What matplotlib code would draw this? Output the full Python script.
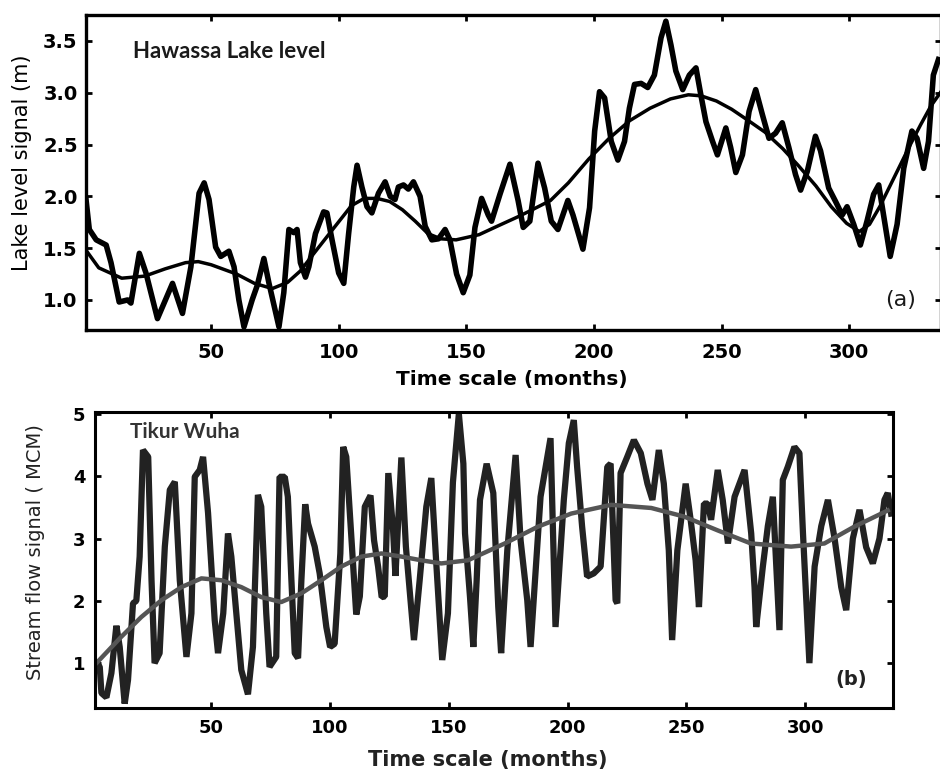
import matplotlib
matplotlib.use("Agg")
import matplotlib.pyplot as plt

# (a) Hawassa lake level, monthly signal
lake_t = [1, 2.3, 5, 8.9, 10.8, 14, 17.3, 18.6, 21.9, 24.5, 29, 34.9, 38.8, 42.1, 45.3, 47.3,
          49.2, 51.8, 53.8, 57, 59, 60.9, 62.9, 66.1, 68.1, 70.7, 72.7, 76.6, 78.5, 80.5, 82.4,
          83.7, 85, 87, 88.3, 90.9, 94.1, 95.4, 97.4, 100, 102, 103.9, 105.9, 107.2, 109.1,
          111.1, 113, 115.6, 118.2, 120.2, 122.1, 123.4, 125.4, 127.3, 129.3, 131.9, 133.9,
          136.5, 139.1, 141.7, 143.6, 146.2, 148.8, 151.4, 153.4, 156, 158.6, 159.9, 163.2,
          167.1, 170.3, 172.3, 174.9, 178.1, 180.7, 183.3, 185.9, 189.8, 191.8, 195.7, 198.3,
          200.3, 202.2, 204.2, 206.8, 209.4, 212, 213.9, 215.9, 218.5, 221.1, 223.7, 226.3,
          228.2, 230.2, 232.1, 234.8, 237.4, 240, 241.9, 243.9, 246.5, 248.4, 251.7, 253.6,
          255.6, 258.2, 260.8, 263.4, 266, 268.6, 271.2, 273.8, 276.4, 279, 281, 283.6, 286.8,
          288.8, 292, 294.7, 297.3, 299.2, 301.8, 304.4, 307, 309.6, 311.6, 313.5, 316.1,
          318.8, 321.4, 324.6, 326.6, 329.2, 331.1, 333, 335]
lake_v = [1.97, 1.68, 1.58, 1.53, 1.36, 0.98, 1.0, 0.97, 1.45, 1.26, 0.82, 1.16, 0.87, 1.32,
          2.03, 2.13, 1.97, 1.51, 1.42, 1.47, 1.32, 1.0, 0.74, 1.0, 1.14, 1.40, 1.16, 0.74,
          1.07, 1.68, 1.65, 1.68, 1.36, 1.22, 1.32, 1.64, 1.85, 1.84, 1.58, 1.26, 1.16, 1.64,
          2.09, 2.30, 2.09, 1.90, 1.84, 2.03, 2.14, 2.0, 1.97, 2.09, 2.11, 2.07, 2.14, 2.0,
          1.71, 1.58, 1.59, 1.68, 1.58, 1.25, 1.07, 1.24, 1.70, 1.98, 1.82, 1.76, 2.02, 2.31,
          1.96, 1.70, 1.76, 2.32, 2.08, 1.76, 1.68, 1.96, 1.82, 1.49, 1.89, 2.63, 3.01, 2.95,
          2.53, 2.35, 2.53, 2.85, 3.08, 3.09, 3.05, 3.17, 3.53, 3.69, 3.46, 3.21, 3.03, 3.17,
          3.24, 2.98, 2.72, 2.53, 2.40, 2.66, 2.47, 2.23, 2.40, 2.82, 3.03, 2.79, 2.56, 2.61,
          2.71, 2.47, 2.21, 2.06, 2.24, 2.58, 2.44, 2.08, 1.95, 1.82, 1.90, 1.73, 1.53, 1.76,
          2.02, 2.11, 1.82, 1.42, 1.73, 2.27, 2.63, 2.56, 2.27, 2.53, 3.17, 3.32]

lake_trend_t = [1, 6, 15, 24, 32, 40, 45, 50, 60, 67, 74, 80, 85, 90, 97, 105, 110, 115, 120,
                125, 130, 135, 140, 146, 155, 162, 170, 175, 183, 190, 198, 206, 214, 222, 230,
                237, 242, 248, 254, 260, 267, 274, 280, 287, 293, 299, 304, 308, 312, 316, 320,
                324, 328, 332, 336]
lake_trend_v = [1.48, 1.31, 1.21, 1.23, 1.30, 1.36, 1.37, 1.34, 1.25, 1.16, 1.11, 1.17, 1.28,
                1.44, 1.66, 1.91, 1.98, 1.98, 1.95, 1.87, 1.76, 1.64, 1.59, 1.58, 1.63, 1.71,
                1.80, 1.86, 1.96, 2.13, 2.36, 2.56, 2.73, 2.85, 2.94, 2.98, 2.97, 2.92, 2.84,
                2.74, 2.62, 2.46, 2.30, 2.10, 1.90, 1.74, 1.66, 1.73, 1.90, 2.10, 2.30, 2.50,
                2.69, 2.87, 3.01]

# (b) Tikur Wuha stream flow
flow_t = [1.6, 3, 3.7, 5.8, 7.9, 10, 11.4, 13.5, 14.9, 17, 18.4, 19.8, 21.2, 23.4, 24.8, 26.1,
          28.2, 30.4, 32.5, 34.6, 36.7, 39.5, 41.6, 43, 45.1, 46.5, 48.6, 51.4, 52.8, 55, 57,
          58.4, 62.6, 65.4, 67.5, 69.6, 71, 73.1, 74.5, 77.3, 78.7, 80.9, 82.2, 83.7, 85.1,
          86.5, 87.9, 89.5, 90.7, 93.5, 95.6, 98.4, 100, 101.9, 104.3, 105.5, 106.8, 109, 111,
          112.5, 114.6, 117, 118.5, 120.2, 121.7, 123, 124.5, 126.5, 127.5, 130, 131.9, 135.3,
          137.7, 140.5, 142.6, 144.7, 147.2, 149.6, 151.7, 154.2, 156.1, 156.8, 158.9, 160.3,
          161.7, 163.1, 165.9, 168.7, 170.8, 172, 174.6, 178.1, 180.2, 183, 184.4, 188.6, 192.8,
          194.9, 198.4, 200.5, 202.6, 204, 206.1, 208.2, 211, 213.9, 216.7, 218.1, 220.2, 220.9,
          222.3, 225.1, 227.9, 230.8, 233.6, 235.7, 238.4, 240.5, 242.6, 244, 246.2, 248.3,
          249.7, 251.8, 253.9, 255.3, 257.4, 259, 260.4, 263.2, 265.3, 267.5, 270.3, 274.5,
          277.3, 278.7, 279.4, 282.2, 284.3, 286.4, 289.2, 290.6, 292.7, 295.5, 297.6, 299.1,
          300.5, 301.8, 304, 306.8, 309.6, 312.4, 315.2, 317.3, 320.1, 322.9, 325.7, 328.5,
          331.3, 333.4, 334.8, 336.2]
flow_v = [1.0, 0.94, 0.52, 0.45, 0.84, 1.6, 1.26, 0.35, 0.73, 1.96, 2.0, 2.71, 4.42, 4.31, 2.33,
          1.0, 1.16, 2.87, 3.78, 3.91, 2.33, 1.10, 1.80, 3.99, 4.10, 4.31, 3.41, 1.69, 1.16,
          1.80, 3.08, 2.71, 0.89, 0.50, 1.26, 3.70, 3.51, 1.80, 0.94, 1.10, 3.99, 3.99, 3.67,
          2.33, 1.16, 1.08, 2.33, 3.55, 3.24, 2.87, 2.44, 1.58, 1.26, 1.31, 2.76, 4.47, 4.31,
          2.97, 1.78, 2.07, 3.51, 3.69, 2.97, 2.55, 2.06, 2.07, 4.05, 3.14, 2.40, 4.30, 2.87,
          1.37, 2.33, 3.51, 3.97, 2.6, 1.05, 1.8, 3.9, 5.0, 4.2, 3.08, 2.06, 1.26, 2.33, 3.62,
          4.2, 3.73, 1.9, 1.16, 2.81, 4.34, 2.97, 2.01, 1.26, 3.67, 4.61, 1.58, 3.62, 4.53, 4.9,
          4.15, 3.19, 2.39, 2.44, 2.55, 4.15, 4.2, 2.01, 1.96, 4.05, 4.31, 4.58, 4.37, 3.88,
          3.62, 4.42, 3.88, 2.81, 1.37, 2.81, 3.46, 3.88, 3.30, 2.65, 1.90, 3.56, 3.56, 3.3,
          4.1, 3.62, 2.92, 3.67, 4.1, 3.08, 2.22, 1.58, 2.55, 3.2, 3.67, 1.53, 3.94, 4.15, 4.47,
          4.37, 3.08, 2.01, 1.0, 2.55, 3.2, 3.62, 3.0, 2.22, 1.85, 3.0, 3.46, 2.86, 2.6, 3.0,
          3.62, 3.73, 3.4]

flow_trend_t = [1.6, 12, 20.5, 29, 37.4, 45.8, 54.2, 62.6, 71, 79.4, 87.9, 96.3, 104.7, 113.2,
                121.6, 130, 138.4, 146.8, 158, 173.5, 187.5, 201.5, 218.3, 235.2, 249.2, 263.2,
                277.2, 294.1, 308.1, 320.7, 334.8]
flow_trend_v = [1.0, 1.42, 1.74, 2.01, 2.22, 2.36, 2.33, 2.22, 2.06, 1.98, 2.12, 2.33, 2.55,
                2.71, 2.76, 2.71, 2.65, 2.60, 2.65, 2.92, 3.19, 3.40, 3.54, 3.49, 3.35, 3.13,
                2.92, 2.87, 2.92, 3.19, 3.45]

W, H = 940, 776
fig = plt.figure(figsize=(W / 100, H / 100), dpi=100)


def style_axes(ax, size, lw):
    for s in ax.spines.values():
        s.set_linewidth(lw)
    ax.tick_params(direction="in", length=4.5, width=2, top=True, right=True,
                   labelsize=size)
    for lab in ax.get_xticklabels() + ax.get_yticklabels():
        lab.set_fontweight("bold")


# top panel
ax1 = fig.add_axes([86 / W, 1 - 330 / H, 855 / W, 315 / H])
ax1.plot(lake_t, lake_v, color="black", lw=4.0)
ax1.plot(lake_trend_t, lake_trend_v, color="black", lw=2.5)
ax1.set_xlim(1, 336)
ax1.set_ylim(0.71, 3.75)
ax1.set_xticks([50, 100, 150, 200, 250, 300])
ax1.set_yticks([1.0, 1.5, 2.0, 2.5, 3.0, 3.5])
ax1.set_yticklabels(["1.0", "1.5", "2.0", "2.5", "3.0", "3.5"])
style_axes(ax1, 14, 2.4)
ax1.tick_params(axis="x", pad=9)
ax1.tick_params(axis="y", pad=6)
fig.text(229 / W, 1 - 52 / H, "Hawassa Lake level", ha="center", va="center",
         family="Lato", weight="bold", fontsize=16, color="#1a1a1a")
fig.text(901 / W, 1 - 300 / H, "(a)", ha="center", va="center", fontsize=16,
         color="#1a1a1a")
fig.text(512 / W, 1 - 380 / H, "Time scale (months)", ha="center", va="center",
         fontsize=14.5, weight="bold")
fig.text(22 / W, 1 - 163 / H, "Lake level signal (m)", ha="center", va="center",
         rotation=90, fontsize=15)

# bottom panel
ax2 = fig.add_axes([95 / W, 1 - 708 / H, 798 / W, 296 / H])
ax2.plot(flow_t, flow_v, color="#222222", lw=4.5, solid_joinstyle="bevel")
ax2.plot(flow_trend_t, flow_trend_v, color="#555555", lw=3.2)
ax2.set_xlim(1, 337)
ax2.set_ylim(0.28, 5.03)
ax2.set_xticks([50, 100, 150, 200, 250, 300])
ax2.set_yticks([1, 2, 3, 4, 5])
style_axes(ax2, 13, 2.2)
ax2.tick_params(axis="x", pad=8)
ax2.tick_params(axis="y", pad=7)
fig.text(185 / W, 1 - 432 / H, "Tikur Wuha", ha="center", va="center",
         family="Lato", weight="bold", fontsize=15, color="#333333")
fig.text(851 / W, 1 - 680 / H, "(b)", ha="center", va="center", fontsize=14,
         weight="bold", color="#222222")
fig.text(488 / W, 1 - 760 / H, "Time scale (months)", ha="center", va="center",
         fontsize=15, weight="bold", color="#222222")
fig.text(36 / W, 1 - 552 / H, "Stream flow signal ( MCM)", ha="center", va="center",
         rotation=90, fontsize=14, color="#222222")

fig.savefig("out.png", dpi=100)
